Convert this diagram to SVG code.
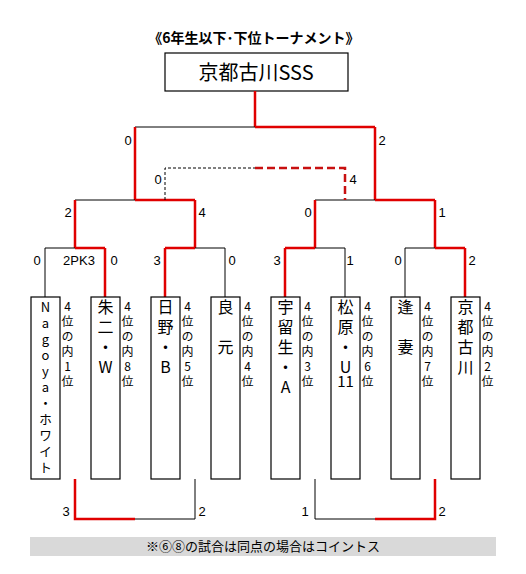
<svg xmlns="http://www.w3.org/2000/svg" width="526" height="574" viewBox="0 0 526 574">
<style>
text{font-family:"Noto Sans CJK JP","Liberation Sans",sans-serif;fill:#000}
.t{font-size:14px;font-weight:bold;text-anchor:middle}
.h{font-size:20px;text-anchor:middle}
.s{font-size:13px;text-anchor:middle;font-family:"Liberation Sans","Noto Sans CJK JP",sans-serif}
.v{writing-mode:vertical-rl;text-orientation:upright}
.n{font-size:16px;letter-spacing:4px}
.n1{font-size:13px;letter-spacing:3px}
.r{font-size:12px;letter-spacing:3px}
.c{font-size:15px;text-anchor:middle}
.box{fill:#fff;stroke:#000;stroke-width:1.2}
.k{fill:none;stroke:#000;stroke-width:1}
.red{fill:none;stroke:#e00000;stroke-width:2.5}
.dk{fill:none;stroke:#000;stroke-width:1;stroke-dasharray:3 2}
.dr{fill:none;stroke:#c81010;stroke-width:2.5;stroke-dasharray:8 4}
.note{font-size:13px;text-anchor:middle}
</style>
<text class="t" x="254" y="43">《6年生以下･下位トーナメント》</text>
<g id="champion">
<rect class="box" x="165" y="53" width="183" height="38"/>
<text class="h" x="256" y="80">京都古川SSS</text>
</g>
<g id="connectors">
<path class="red" d="M255 91V127"/>
<path class="k" d="M135 127H255"/>
<path class="red" d="M255 127H375"/>
<path class="red" d="M135 127V200M375 127V200"/>
<path class="k" d="M75 200H135M315 200H375"/>
<path class="red" d="M135 200H195M375 200H435"/>
<path class="red" d="M75 200V248M195 200V248M315 200V248M435 200V248"/>
<path class="dk" d="M165 200V168H255"/>
<path class="dr" d="M255 168H345V200"/>
<path class="k" d="M45 248H75M195 248H225M315 248H345M405 248H435"/>
<path class="red" d="M75 248H105M165 248H195M285 248H315M435 248H465"/>
<path class="k" d="M45 248V297M225 248V297M345 248V297M405 248V297"/>
<path class="red" d="M105 248V297M165 248V297M285 248V297M465 248V297"/>
<path class="red" d="M75 479V519H135M375 519H435V479"/>
<path class="k" d="M135 519H195V479M315 479V519H375"/>
</g>
<g id="scores">
<text class="s" x="128" y="145">0</text>
<text class="s" x="382" y="145">2</text>
<text class="s" x="158" y="184">0</text>
<text class="s" x="353" y="184">4</text>
<text class="s" x="68" y="217">2</text>
<text class="s" x="202" y="217">4</text>
<text class="s" x="308" y="217">0</text>
<text class="s" x="442" y="217">1</text>
<text class="s" x="37" y="265">0</text>
<text class="s" x="79" y="265">2PK3</text>
<text class="s" x="114" y="265">0</text>
<text class="s" x="157" y="265">3</text>
<text class="s" x="232" y="265">0</text>
<text class="s" x="277" y="265">3</text>
<text class="s" x="350" y="265">1</text>
<text class="s" x="398" y="265">0</text>
<text class="s" x="472" y="265">2</text>
<text class="s" x="66" y="516">3</text>
<text class="s" x="202" y="516">2</text>
<text class="s" x="305" y="516">1</text>
<text class="s" x="442" y="516">2</text>
</g>
<g id="team1">
<rect class="box" x="31" y="297" width="29" height="182"/>
<text class="v n1" x="45.5" y="301">Nagoya・ホワイト</text>
<text class="v r" x="67.5" y="300">4位の内1位</text>
</g>
<g id="team2">
<rect class="box" x="91" y="297" width="29" height="182"/>
<text class="v n" x="105.5" y="299">朱二・W</text>
<text class="v r" x="127.5" y="300">4位の内8位</text>
</g>
<g id="team3">
<rect class="box" x="151" y="297" width="29" height="182"/>
<text class="v n" x="165.5" y="299">日野・B</text>
<text class="v r" x="187.5" y="300">4位の内5位</text>
</g>
<g id="team4">
<rect class="box" x="211" y="297" width="29" height="182"/>
<text class="v n" x="225.5" y="299">良　元</text>
<text class="v r" x="247.5" y="300">4位の内4位</text>
</g>
<g id="team5">
<rect class="box" x="271" y="297" width="29" height="182"/>
<text class="v n" x="285.5" y="299">宇留生・A</text>
<text class="v r" x="307.5" y="300">4位の内3位</text>
</g>
<g id="team6">
<rect class="box" x="331" y="297" width="29" height="182"/>
<text class="v n" x="345.5" y="299">松原・U</text>
<text class="c" x="345.5" y="387">11</text>
<text class="v r" x="367.5" y="300">4位の内6位</text>
</g>
<g id="team7">
<rect class="box" x="391" y="297" width="29" height="182"/>
<text class="v n" x="405.5" y="299">逢　妻</text>
<text class="v r" x="427.5" y="300">4位の内7位</text>
</g>
<g id="team8">
<rect class="box" x="451" y="297" width="29" height="182"/>
<text class="v n" x="465.5" y="299">京都古川</text>
<text class="v r" x="487.5" y="300">4位の内2位</text>
</g>
<g id="note">
<rect x="30" y="537" width="466" height="19" fill="#d9d9d9"/>
<text class="note" x="263" y="551">※⑥⑧の試合は同点の場合はコイントス</text>
</g>
</svg>
